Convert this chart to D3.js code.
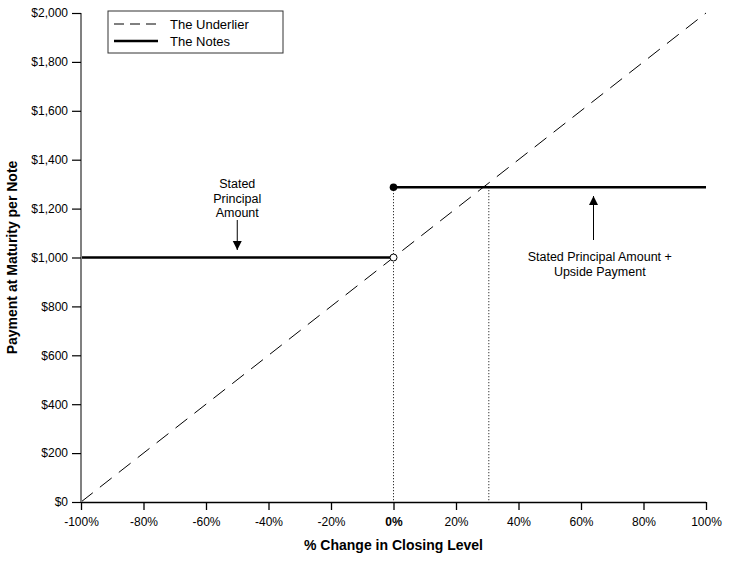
<!DOCTYPE html>
<html>
<head>
<meta charset="utf-8">
<script src="https://cdn.jsdelivr.net/npm/d3@7"></script>
<style>
  body { margin: 0; background: #fff; }
  text { font-family: Arial, "Liberation Sans", sans-serif; fill: #000; }
  .tick text { font-size: 12px; }
</style>
</head>
<body>
<div id="chart"></div>
<script>
var W = 734, H = 561,
	margin = { top: 13, right: 28, bottom: 59, left: 81 },
	width = W - margin.left - margin.right,
	height = H - margin.top - margin.bottom;

// values
var xTicks = [-100, -80, -60, -40, -20, 0, 20, 40, 60, 80, 100],
	yTicks = [0, 200, 400, 600, 800, 1000, 1200, 1400, 1600, 1800, 2000],
	underlier = [[-100, 0], [100, 2000]],
	notesLow = [[-100, 1000], [0, 1000]],
	notesHigh = [[0, 1287.5], [100, 1287.5]],
	capPct = 30.5,
	capValue = 1287.5,
	principal = 1000;

var svg = d3.select("#chart").append("svg")
	.attr("width", W)
	.attr("height", H)
	.append("g")
	.attr("transform", "translate(" + margin.left + "," + margin.top + ")");

var x = d3.scaleLinear().domain([-100, 100]).range([0, width]);
var y = d3.scaleLinear().domain([0, 2000]).range([height, 0]);

var line = d3.line().x(function(d) { return x(d[0]); }).y(function(d) { return y(d[1]); });

// dotted guides
svg.append("line")
	.attr("x1", x(0)).attr("x2", x(0))
	.attr("y1", y(capValue)).attr("y2", y(0))
	.attr("stroke", "#000").attr("stroke-width", 1).attr("stroke-dasharray", "1,2");
svg.append("line")
	.attr("x1", x(capPct)).attr("x2", x(capPct))
	.attr("y1", y(capValue)).attr("y2", y(0))
	.attr("stroke", "#000").attr("stroke-width", 1).attr("stroke-dasharray", "1,2");

// underlier
svg.append("path")
	.datum(underlier)
	.attr("d", line)
	.attr("fill", "none").attr("stroke", "#000").attr("stroke-width", 1)
	.attr("stroke-dasharray", "15,9");

// notes
[notesLow, notesHigh].forEach(function(seg) {
	svg.append("path")
		.datum(seg)
		.attr("d", line)
		.attr("fill", "none").attr("stroke", "#000").attr("stroke-width", 2.5);
});

svg.append("circle")
	.attr("cx", x(0)).attr("cy", y(principal)).attr("r", 3.5)
	.attr("fill", "#fff").attr("stroke", "#000").attr("stroke-width", 1);
svg.append("circle")
	.attr("cx", x(0)).attr("cy", y(capValue)).attr("r", 3.8)
	.attr("fill", "#000");

// axes
var xAxis = svg.append("g")
	.attr("transform", "translate(0," + height + ")")
	.call(d3.axisBottom(x).tickValues(xTicks).tickSize(8).tickPadding(7)
		.tickFormat(function(d) { return d + "%"; }));
xAxis.select(".domain").attr("stroke", "#000").attr("stroke-width", 1.5).attr("d", "M0,0.5H" + width);
xAxis.selectAll(".tick line").attr("stroke", "#000").attr("stroke-width", 1.3);
xAxis.selectAll(".tick text")
	.style("font-weight", function(d) { return d === 0 ? "bold" : "normal"; });

var yAxis = svg.append("g")
	.call(d3.axisLeft(y).tickValues(yTicks).tickSize(9).tickPadding(4)
		.tickFormat(function(d) { return "$" + d3.format(",")(d); }));
yAxis.select(".domain").attr("stroke", "#808080").attr("stroke-width", 2).attr("d", "M0,0V" + height);
yAxis.selectAll(".tick line").attr("stroke", "#000").attr("stroke-width", 1.2);

// axis titles
svg.append("text")
	.attr("x", x(0)).attr("y", height + 48)
	.attr("text-anchor", "middle")
	.style("font-size", "14px").style("font-weight", "bold")
	.text("% Change in Closing Level");

svg.append("text")
	.attr("transform", "translate(" + (17 - margin.left) + "," + (height / 2) + ") rotate(-90)")
	.attr("text-anchor", "middle")
	.style("font-size", "14px").style("font-weight", "bold")
	.text("Payment at Maturity per Note");

// arrow marker
svg.append("defs").append("marker")
	.attr("id", "arrow")
	.attr("viewBox", "0 0 10 10")
	.attr("refX", 10).attr("refY", 5)
	.attr("markerWidth", 9).attr("markerHeight", 13)
	.attr("markerUnits", "userSpaceOnUse")
	.attr("orient", "auto")
	.append("path").attr("d", "M0,0L10,5L0,10Z").attr("fill", "#000");

// annotation: stated principal
var a1 = svg.append("text")
	.attr("text-anchor", "middle")
	.style("font-size", "12.5px");
["Stated", "Principal", "Amount"].forEach(function(t, i) {
	a1.append("tspan").attr("x", x(-50)).attr("y", 188 - margin.top + i * 14.5).text(t);
});
svg.append("line")
	.attr("x1", x(-50)).attr("x2", x(-50))
	.attr("y1", 220 - margin.top).attr("y2", 250 - margin.top)
	.attr("stroke", "#000").attr("stroke-width", 1)
	.attr("marker-end", "url(#arrow)");

// annotation: upside
svg.append("line")
	.attr("x1", x(64)).attr("x2", x(64))
	.attr("y1", 240 - margin.top).attr("y2", 196 - margin.top)
	.attr("stroke", "#000").attr("stroke-width", 1)
	.attr("marker-end", "url(#arrow)");
var a2 = svg.append("text")
	.attr("text-anchor", "middle")
	.style("font-size", "12.5px");
["Stated Principal Amount +", "Upside Payment"].forEach(function(t, i) {
	a2.append("tspan").attr("x", x(66)).attr("y", 261 - margin.top + i * 14.5).text(t);
});

// legend
var lg = svg.append("g").attr("transform", "translate(" + (108 - margin.left) + "," + (11 - margin.top) + ")");
lg.append("rect")
	.attr("width", 175).attr("height", 42)
	.attr("fill", "#fff").attr("stroke", "#333").attr("stroke-width", 1);
lg.append("line").attr("x1", 6).attr("x2", 50).attr("y1", 13).attr("y2", 13)
	.attr("stroke", "#000").attr("stroke-width", 1).attr("stroke-dasharray", "10,6");
lg.append("line").attr("x1", 6).attr("x2", 50).attr("y1", 30).attr("y2", 30)
	.attr("stroke", "#000").attr("stroke-width", 2.5);
lg.append("text").attr("x", 62).attr("y", 18).style("font-size", "13px").text("The Underlier");
lg.append("text").attr("x", 62).attr("y", 35).style("font-size", "13px").text("The Notes");
</script>
</body>
</html>
